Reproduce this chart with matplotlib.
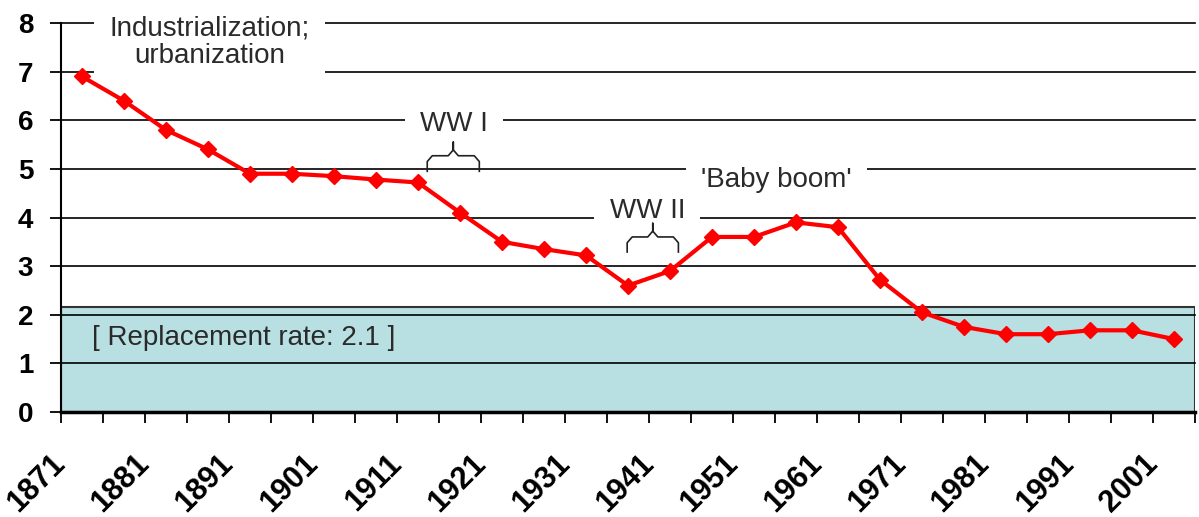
import numpy as np
import matplotlib.pyplot as plt
from matplotlib.patches import Rectangle

# 5-year periods (start year) and total fertility rate
periods = [1871, 1876, 1881, 1886, 1891, 1896, 1901, 1906, 1911, 1916,
           1921, 1926, 1931, 1936, 1941, 1946, 1951, 1956, 1961, 1966,
           1971, 1976, 1981, 1986, 1991, 1996, 2001]
tfr = [6.9, 6.4, 5.8, 5.4, 4.9, 4.9, 4.85, 4.78, 4.72, 4.1,
       3.5, 3.35, 3.22, 2.6, 2.9, 3.6, 3.6, 3.9, 3.8, 2.72,
       2.05, 1.75, 1.6, 1.6, 1.68, 1.68, 1.5]
tick_years = [1871, 1881, 1891, 1901, 1911, 1921, 1931, 1941, 1951,
              1961, 1971, 1981, 1991, 2001]
replacement_band = 2.16

plt.rcParams['font.family'] = ['Liberation Sans', 'DejaVu Sans']

fig = plt.figure(figsize=(11.99, 5.17), dpi=100)
ax = fig.add_axes([61 / 1199, 105 / 517, 1134 / 1199, 389 / 517])

x = np.array(periods) + 2.5
x0, x1 = periods[0], periods[-1] + 5

# replacement band
ax.add_patch(Rectangle((x0, 0), x1 - x0, replacement_band, facecolor='#b8dfe2',
                       edgecolor='#333333', linewidth=1.5, zorder=0.5))

# horizontal grid lines
for yv in range(1, 9):
    ax.plot([x0, x1], [yv, yv], color='black', lw=1.2, zorder=1, clip_on=False)

ax.plot(x, tfr, color='red', lw=3, marker='D', markersize=8, zorder=4)

ax.set_xlim(x0, x1)
ax.set_ylim(0, 8)
ax.set_yticks(range(0, 9))
ax.set_yticklabels([str(v) for v in range(0, 9)], fontsize=20, fontweight='bold')
ax.set_xticks(tick_years)
ax.set_xticks(periods + [x1], minor=True)
ax.set_xticklabels([str(y) for y in tick_years], fontsize=22, fontweight='bold',
                   rotation=45, ha='right', va='center', rotation_mode='anchor')
ax.tick_params(axis='y', length=8, width=1.3, pad=12, direction='out')
ax.tick_params(axis='x', which='both', length=8, width=1.3, pad=26, direction='out')
for s in ['top', 'right']:
    ax.spines[s].set_visible(False)
ax.spines['left'].set_linewidth(1.5)
ax.spines['bottom'].set_linewidth(2.5)

txt = dict(fontsize=20, color='#2a2a2a', zorder=3,
           ha='center', va='center', clip_on=False)
box = dict(facecolor='white', edgecolor='none', pad=11)

ax.text(1888.7, 7.6, 'Industrialization;\nurbanization', linespacing=1.1,
        bbox=dict(facecolor='white', edgecolor='none', pad=11), **txt)
ax.text(1917.8, 5.93, 'WW I', bbox=box, **txt)
ax.text(1956.2, 4.77, "'Baby boom'", bbox=box, **txt)
ax.text(1940.8, 4.14, 'WW II', bbox=box, **txt)
ax.text(1892.7, 1.52, '[ Replacement rate: 2.1 ]', fontsize=20,
        color='#2a2a2a', ha='center', va='center', zorder=3)


def brace(xa, xb, y_end, y_bar, y_tip):
    xm = (xa + xb) / 2
    r = 0.6
    d = 0.12
    xs = [xa, xa, xa + r, xm - r, xm, xm, xm, xm + r, xb - r, xb, xb]
    ys = [y_end, y_bar - d, y_bar, y_bar, y_bar + d, y_tip, y_bar + d, y_bar, y_bar, y_bar - d, y_end]
    ax.plot(xs, ys, color='#222222', lw=1.2, zorder=3)


brace(1914.6, 1920.8, 4.95, 5.27, 5.55)
brace(1938.4, 1944.5, 3.29, 3.6, 3.88)

fig.savefig('out.png', dpi=100)
